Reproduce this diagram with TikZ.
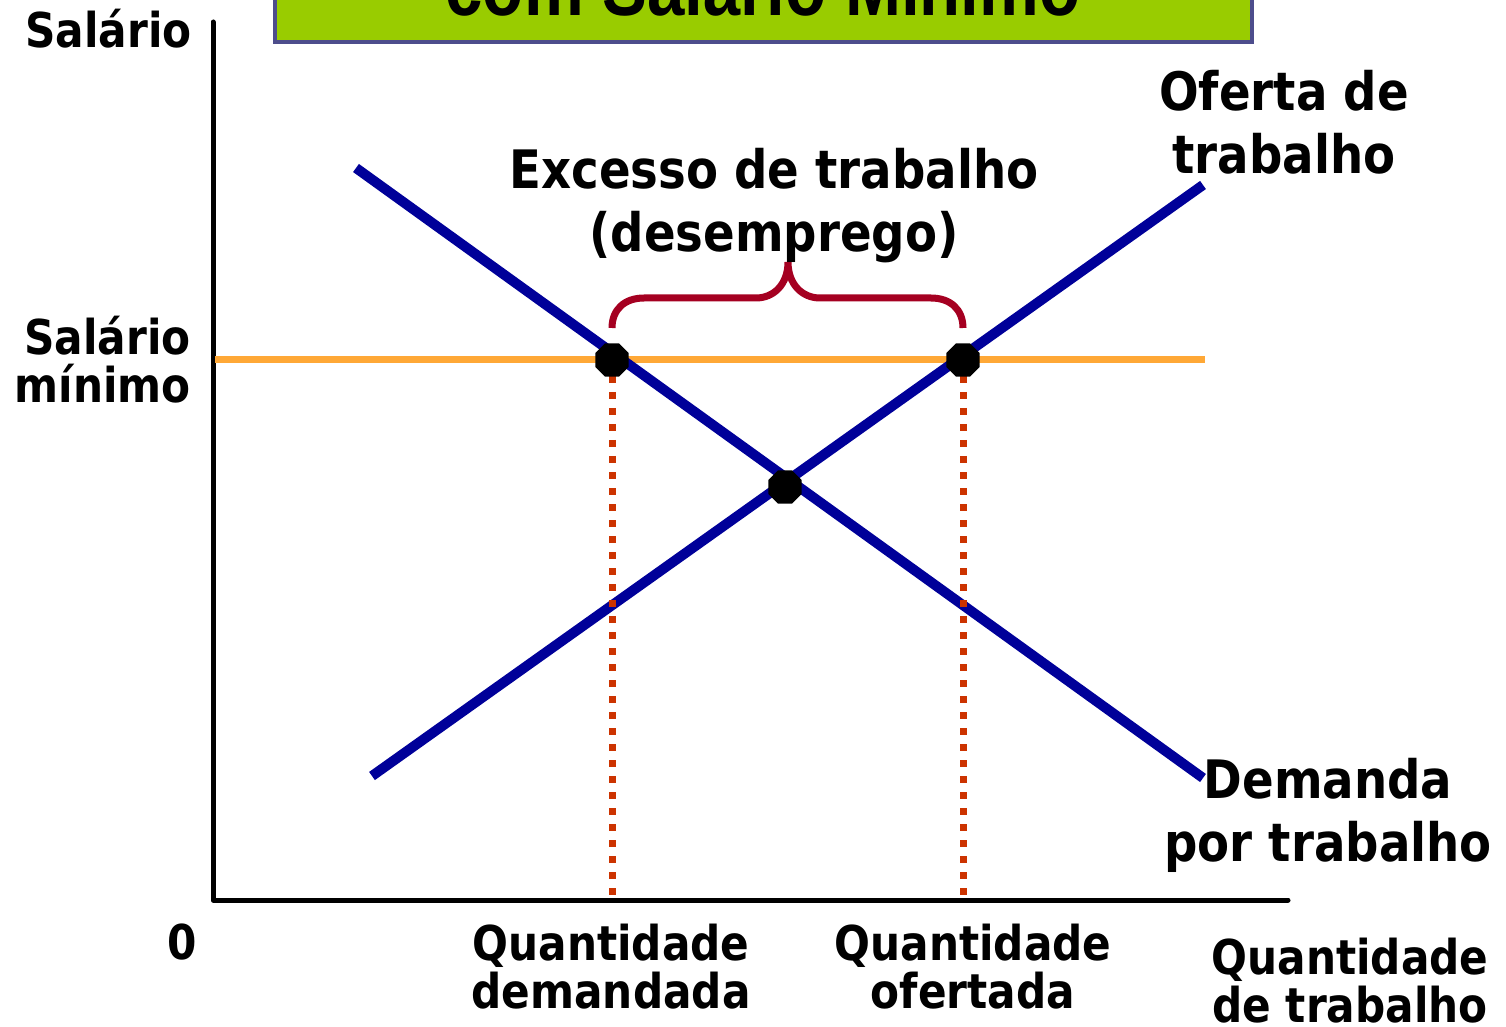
\documentclass[tikz,border=0pt]{standalone}
\usepackage{fontspec}
\usetikzlibrary{shapes.geometric}
\newfontfamily\lblfont[FakeStretch=0.88]{DejaVu Sans}
\newfontfamily\ttlfont[FakeStretch=0.84]{Liberation Sans}
\definecolor{curveblue}{RGB}{0,0,153}
\definecolor{minorange}{RGB}{255,168,54}
\definecolor{dropred}{RGB}{204,51,0}
\definecolor{bracered}{RGB}{165,0,33}
\definecolor{titlegreen}{RGB}{153,204,0}
\definecolor{titleborder}{RGB}{77,77,140}
\tikzset{
  smalllbl/.style={font=\lblfont\bfseries\fontsize{24}{24}\selectfont, align=center, inner sep=0pt},
  biglbl/.style={font=\lblfont\bfseries\fontsize{26.5}{31.5}\selectfont, align=center, inner sep=0pt},
  curve/.style={curveblue, line width=5pt},
  drop/.style={dropred, line width=3.5pt, dash pattern=on 3.5pt off 4.5pt},
  eqdot/.style={regular polygon, regular polygon sides=8, fill=black, inner sep=0pt, minimum size=18pt}
}
\begin{document}
\begin{tikzpicture}[x=0.5pt, y=-0.5pt]%
  \useasboundingbox (0,0) rectangle (1506,1027);%
  % title box (cut by the page edge)
  \draw[titleborder, line width=2pt, fill=titlegreen] (275,-40) rectangle (1252,42);
  \node[font=\ttlfont\bfseries\fontsize{40}{40}\selectfont, anchor=base, inner sep=0pt] (title) at (763,16) {com Salário Mínimo};
  % axes and minimum wage
  \draw[line width=2.5pt, line cap=round, line join=round] (213,22) -- (213,900) -- (1288,900);
  \draw[minorange, line width=3.5pt] (215,360) -- (1205,360);
  % demand and supply
  \draw[curve] (356,168) -- (1203,778);
  \draw[curve] (372,776) -- (1203,185);
  % brace
  \draw[bracered, line width=3.5pt] (612,328) .. controls (612,310) and (624,298) .. (644,298) -- (756,298)
    .. controls (774,298) and (788,284) .. (788,262) .. controls (788,284) and (802,298) .. (820,298) -- (931,298)
    .. controls (951,298) and (963,310) .. (963,328);
  \foreach \n/\x in {dem/612, ofe/963}{%
    \coordinate (Q-\n) at (\x,900);
    \draw[drop] (\x,360) -- (Q-\n);
    \node[eqdot] (P-\n) at (\x,360) {};
  }
  \node[eqdot] (E) at (785,487) {};
  % labels
  \node[smalllbl, anchor=base east] (ylbl) at (192,48) {Salário};
  \node[smalllbl, anchor=north east, align=right] (wmin) at (191,316) {Salário\\mínimo};
  \node[smalllbl] (zero) at (182,942) {0};
  \node[smalllbl, anchor=north] (qd) at (611,924) {Quantidade\\demandada};
  \node[smalllbl, anchor=north] (qo) at (973,924) {Quantidade\\ofertada};
  \node[smalllbl, anchor=north] (xlbl) at (1350,938) {Quantidade\\de trabalho};
  \node[biglbl, anchor=north] (exc) at (774,148) {Excesso de trabalho\\(desemprego)};
  \node[biglbl, anchor=north] (sup) at (1284,70) {Oferta de\\trabalho};
  \node[biglbl, anchor=north] (dem) at (1328,758) {Demanda\\por trabalho};
\end{tikzpicture}
\end{document}
